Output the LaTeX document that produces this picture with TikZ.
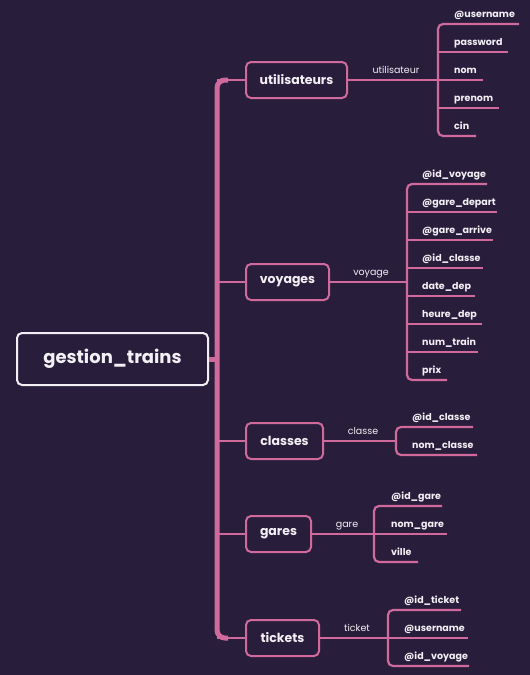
\documentclass[tikz,border=0pt]{standalone}
\usepackage{fontspec}
\setmainfont{Poppins}
\definecolor{bg}{HTML}{281D3B}
\definecolor{pk}{HTML}{D06A9C}
\definecolor{tx}{HTML}{F2F0F4}
\begin{document}
\begin{tikzpicture}[x=1pt,y=-1pt,
 root/.style={draw=tx, line width=2, rounded corners=5, fill=bg, text=tx, font=\bfseries\fontsize{18}{20}\selectfont, minimum width=191, minimum height=52, inner sep=0},
 topic/.style={draw=pk, line width=2, rounded corners=5, fill=bg, text=tx, font=\bfseries\fontsize{12.5}{14}\selectfont, minimum height=36, inner sep=0, anchor=west},
 lbl/.style={text=tx, font=\fontsize{9.5}{11}\selectfont, inner sep=0, anchor=base},
 attr/.style={text=tx, font=\bfseries\fontsize{9.5}{11}\selectfont, inner sep=0, anchor=base west},
 spine/.style={draw=pk, line width=5, rounded corners=8},
 br/.style={draw=pk, line width=2.2, rounded corners=5},
]
\fill[bg] (0,0) rectangle (530,675);
\useasboundingbox (0,0) rectangle (530,675);

% root and topics
\node[root] (root) at (112.5,359) {gestion\_trains};
\node[topic, minimum width=101] (ut) at (245,80) {utilisateurs};
\node[topic, minimum width=83] (vo) at (245,282) {voyages};
\node[topic, minimum width=77] (cl) at (245,441) {classes};
\node[topic, minimum width=65] (ga) at (245,534) {gares};
\node[topic, minimum width=73] (ti) at (245,638) {tickets};

% spine
\coordinate (sT) at (217,80);
\coordinate (sB) at (217,638);
\coordinate (sR) at (217,359);
\draw[spine] (228,80) -- (sT) -- (sB) -- (228,638);
\draw[pk, line width=5] (root.east) -- (sR);
\draw[br] (sT) -- (ut.west);
\draw[br] (217,282) -- (vo.west);
\draw[br] (217,441) -- (cl.west);
\draw[br] (217,534) -- (ga.west);
\draw[br] (sB) -- (ti.west);

% utilisateurs
\coordinate (uB) at (438,80);
\draw[br] (ut.east) -- (uB);
\node[lbl] (uL) at (396,73) {utilisateur};
\draw[br] (519,24) -- (438,24) -- (438,136) -- (476,136);
\foreach \y/\e in {52/508,80/483,108/499} \draw[br] (438,\y) -- (\e,\y);
\foreach \n/\t/\y in {u1/@username/24,u2/password/52,u3/nom/80,u4/prenom/108,u5/cin/136}
  \node[attr] (\n) at (454,{\y-7}) {\t};

% voyages
\coordinate (vB) at (407,282);
\draw[br] (vo.east) -- (vB);
\node[lbl] (vL) at (371,275) {voyage};
\draw[br] (487,184) -- (407,184) -- (407,380) -- (447,380);
\foreach \y/\e in {212/497,240/493,268/483,296/475,324/482,352/478} \draw[br] (407,\y) -- (\e,\y);
\foreach \n/\t/\y in {v1/@id\_voyage/184,v2/@gare\_depart/212,v3/@gare\_arrive/240,v4/@id\_classe/268,v5/date\_dep/296,v6/heure\_dep/324,v7/num\_train/352,v8/prix/380}
  \node[attr] (\n) at (422,{\y-7}) {\t};

% classes
\coordinate (cB) at (396,441);
\draw[br] (cl.east) -- (cB);
\node[lbl] (cL) at (363,434) {classe};
\draw[br] (473,427) -- (396,427) -- (396,455) -- (477,455);
\foreach \n/\t/\y in {c1/@id\_classe/427,c2/nom\_classe/455}
  \node[attr] (\n) at (412,{\y-7}) {\t};

% gares
\coordinate (gB) at (374,534);
\draw[br] (ga.east) -- (gB);
\node[lbl] (gL) at (347,527) {gare};
\draw[br] (442,506) -- (374,506) -- (374,562) -- (418,562);
\draw[br] (gB) -- (447,534);
\foreach \n/\t/\y in {g1/@id\_gare/506,g2/nom\_gare/534,g3/ville/562}
  \node[attr] (\n) at (391,{\y-7}) {\t};

% tickets
\coordinate (tB) at (388,638);
\draw[br] (ti.east) -- (tB);
\node[lbl] (tL) at (357,631) {ticket};
\draw[br] (461,610) -- (388,610) -- (388,666) -- (469,666);
\draw[br] (tB) -- (468,638);
\foreach \n/\t/\y in {t1/@id\_ticket/610,t2/@username/638,t3/@id\_voyage/666}
  \node[attr] (\n) at (404,{\y-7}) {\t};
\end{tikzpicture}
\end{document}
